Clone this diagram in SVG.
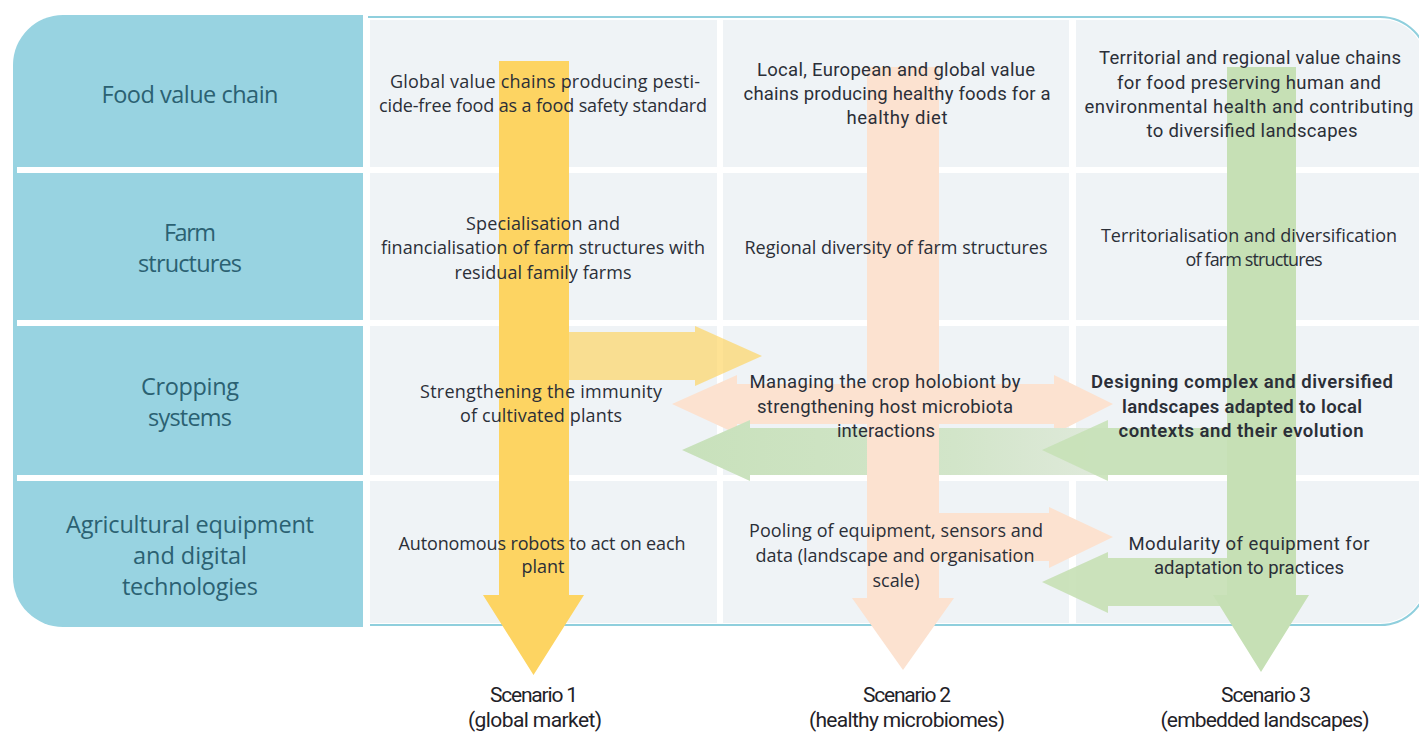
<svg xmlns="http://www.w3.org/2000/svg" width="1419" height="733" viewBox="0 0 1419 733">
<style>
.lab{font-family:"Open Sans","Noto Sans",sans-serif;font-size:23.5px;fill:#2b6172;text-anchor:middle}
.t1{font-family:"Open Sans","Noto Sans",sans-serif;font-size:18px;fill:#2b2f38;text-anchor:middle}
.t2{font-family:"Roboto","Liberation Sans",sans-serif;font-size:18.5px;fill:#2b2f38;text-anchor:middle}
.b{font-weight:600}
.sc{font-family:"Roboto","Liberation Sans",sans-serif;font-size:21px;fill:#1f2228;text-anchor:middle}
.cell{fill:#eff3f6}
.sep{fill:#ffffff}
.yel{fill:#fdd462}
.yelL{fill:#fdd462;opacity:0.68}
.pch{fill:#fce2d0}
.grn{fill:#c6e0b5}
</style>
<defs>
<clipPath id="gridClip"><path d="M370,19 H1380 A46,46 0 0 1 1426,65 V577 A46,46 0 0 1 1380,623 H370 Z"/></clipPath>
<linearGradient id="gfade" x1="682" y1="0" x2="1227" y2="0" gradientUnits="userSpaceOnUse">
<stop offset="0" stop-color="#c8e1bb"/>
<stop offset="0.5" stop-color="#d2e5c9"/>
<stop offset="0.75" stop-color="#dee9d9"/>
<stop offset="1" stop-color="#dee9d9"/>
</linearGradient>
</defs>
<rect width="1419" height="733" fill="#ffffff"/>

<g id="label-panel">
<path d="M63,15 H363 V627 H63 A50,50 0 0 1 13,577 V65 A50,50 0 0 1 63,15 Z" fill="#98d3e1"/>
<rect class="sep" x="17" y="167" width="346" height="6"/>
<rect class="sep" x="17" y="320" width="346" height="6"/>
<rect class="sep" x="17" y="475" width="346" height="6"/>
</g>

<g id="grid">
<path d="M368,17 H1380 A48,48 0 0 1 1428,65 V577 A48,48 0 0 1 1380,625 H370" fill="none" stroke="#8fcfdd" stroke-width="2"/>
<g clip-path="url(#gridClip)">
<rect class="cell" x="370" y="20" width="347" height="147"/>
<rect class="cell" x="723" y="20" width="346" height="147"/>
<rect class="cell" x="1076" y="20" width="354" height="147"/>
<rect class="cell" x="370" y="173" width="347" height="147"/>
<rect class="cell" x="723" y="173" width="346" height="147"/>
<rect class="cell" x="1076" y="173" width="354" height="147"/>
<rect class="cell" x="370" y="326" width="347" height="149"/>
<rect class="cell" x="723" y="326" width="346" height="149"/>
<rect class="cell" x="1076" y="326" width="354" height="149"/>
<rect class="cell" x="370" y="481" width="347" height="142"/>
<rect class="cell" x="723" y="481" width="346" height="142"/>
<rect class="cell" x="1076" y="481" width="354" height="142"/>
</g>
</g>

<g id="connectors">
<polygon id="arrow-s1-to-s2" class="yelL" points="569,332 695,332 695,326 762,356 695,386 695,380 569,380"/>
<polygon id="arrow-s2-both" class="pch" points="737,384 737,375 672,404 737,434 737,424 1054,424 1054,434 1113,404 1054,375 1054,384"/>
<polygon id="arrow-s2-to-s3-eq" class="pch" points="939,513 1049,513 1049,507 1113,537 1049,568 1049,561 939,561"/>
<polygon id="arrow-s3-to-s2-long" fill="url(#gfade)" points="1227,428 750,428 750,420 682,450 750,481 750,475 1227,475"/>
<polygon id="arrow-s3-to-s2-crop" class="grn" opacity="0.85" points="1227,428 1108,428 1108,420 1042,450 1108,481 1108,475 1227,475"/>
<polygon id="arrow-s3-to-s2-eq" class="grn" opacity="0.9" points="1227,558 1108,558 1108,552 1042,582 1108,613 1108,606 1227,606"/>
<polygon id="arrow-s1" class="yel" points="499,61 569,61 569,595 584,595 533.5,675 483,595 499,595"/>
<polygon id="arrow-s2" class="pch" points="867,67 939,67 939,598 954,598 903,670 852,598 867,598"/>
<polygon id="arrow-s3" class="grn" points="1227,67 1296,67 1296,595 1309,595 1261,672 1213,595 1227,595"/>
</g>

<g id="row-labels">
<text class="lab" x="190" y="103" textLength="177">Food value chain</text>
<text class="lab" x="190" y="241" textLength="52">Farm</text>
<text class="lab" x="190" y="272" textLength="104">structures</text>
<text class="lab" x="190" y="395" textLength="98">Cropping</text>
<text class="lab" x="190" y="426" textLength="84">systems</text>
<text class="lab" x="190" y="533" textLength="248">Agricultural equipment</text>
<text class="lab" x="190" y="564" textLength="114">and digital</text>
<text class="lab" x="190" y="595" textLength="136">technologies</text>
</g>

<g id="s1-food">
<text class="t1" x="545" y="88" textLength="310">Global value chains producing pesti-</text>
<text class="t1" x="543" y="112" textLength="328">cide-free food as a food safety standard</text>
</g>
<g id="s1-farm">
<text class="t1" x="543" y="230" textLength="154">Specialisation and</text>
<text class="t1" x="543" y="254" textLength="324">financialisation of farm structures with</text>
<text class="t1" x="543" y="279" textLength="177">residual family farms</text>
</g>
<g id="s1-crop">
<text class="t1" x="541" y="398" textLength="242">Strengthening the immunity</text>
<text class="t1" x="541" y="422" textLength="162">of cultivated plants</text>
</g>
<g id="s1-equip">
<text class="t1" x="542" y="550" textLength="287">Autonomous robots to act on each</text>
<text class="t1" x="543" y="573" textLength="43">plant</text>
</g>

<g id="s2-food">
<text class="t2" x="896" y="76" textLength="278">Local, European and global value</text>
<text class="t2" x="897" y="100" textLength="307">chains producing  healthy foods for a</text>
<text class="t2" x="897" y="124" textLength="101">healthy diet</text>
</g>
<g id="s2-farm">
<text class="t1" x="896" y="254" textLength="303">Regional diversity of farm structures</text>
</g>
<g id="s2-crop">
<text class="t2" x="885" y="388" textLength="271">Managing the crop holobiont by</text>
<text class="t2" x="885" y="413" textLength="256">strengthening host microbiota</text>
<text class="t2" x="886" y="437" textLength="98">interactions</text>
</g>
<g id="s2-equip">
<text class="t1" x="896" y="537" textLength="294">Pooling of equipment, sensors and</text>
<text class="t1" x="895" y="562" textLength="279">data (landscape and organisation</text>
<text class="t1" x="896" y="587" textLength="47">scale)</text>
</g>

<g id="s3-food">
<text class="t2" x="1250" y="64" textLength="302">Territorial and regional value chains</text>
<text class="t2" x="1249" y="89" textLength="264">for food preserving human and</text>
<text class="t2" x="1249" y="113" textLength="329">environmental health and contributing</text>
<text class="t2" x="1252" y="137" textLength="211">to diversified landscapes</text>
</g>
<g id="s3-farm">
<text class="t1" x="1249" y="242" textLength="296">Territorialisation and diversification</text>
<text class="t1" x="1254" y="266" textLength="137">of farm structures</text>
</g>
<g id="s3-crop">
<text class="t2 b" x="1242" y="388" textLength="302">Designing complex and diversified</text>
<text class="t2 b" x="1242" y="413" textLength="240">landscapes adapted to local</text>
<text class="t2 b" x="1241" y="437" textLength="245">contexts and their evolution</text>
</g>
<g id="s3-equip">
<text class="t2" x="1249" y="550" textLength="241">Modularity of equipment for</text>
<text class="t2" x="1249" y="574" textLength="190">adaptation to practices</text>
</g>

<g id="scenario-1">
<text class="sc" x="534" y="702" textLength="88">Scenario 1</text>
<text class="sc" x="535" y="727" textLength="134">(global market)</text>
</g>
<g id="scenario-2">
<text class="sc" x="907" y="702" textLength="88">Scenario 2</text>
<text class="sc" x="907" y="727" textLength="196">(healthy microbiomes)</text>
</g>
<g id="scenario-3">
<text class="sc" x="1266" y="702" textLength="90">Scenario 3</text>
<text class="sc" x="1265" y="727" textLength="209">(embedded landscapes)</text>
</g>
</svg>
